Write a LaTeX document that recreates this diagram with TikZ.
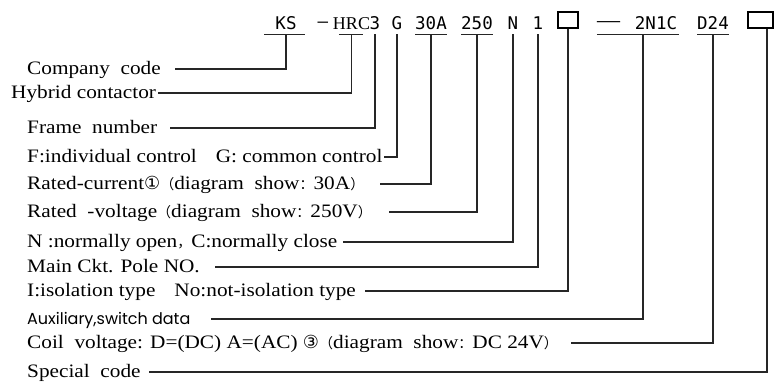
\documentclass[tikz,border=0pt]{standalone}
\usepackage{fontspec}
\usepackage{tikz}
\setmainfont{Liberation Serif}
\newfontfamily\codefont{DejaVu Sans Mono}
\newfontfamily\lblfont[FakeStretch=1.12]{Liberation Serif}
\newfontfamily\auxfont{Poppins}
\newfontfamily\symfont{DejaVu Sans}
\newfontfamily\cjkfont{Noto Sans CJK SC}
\newcommand\cjk{\cjkfont\fontsize{14}{16}\selectfont}

\tikzset{
  code/.style={anchor=base, inner xsep=0pt, inner ysep=0pt, text height=12pt, text depth=5pt,
    font=\codefont\fontsize{17.5}{18}\selectfont},
  codebox/.style={draw, line width=1.2pt, minimum width=20pt, minimum height=16pt, inner sep=0pt},
  lbl/.style={anchor=west, inner sep=0pt, text height=11.5pt, text depth=0pt,
    font=\lblfont\fontsize{19}{21}\selectfont},
  conn/.style={line width=1.2pt, black!85},
}

\begin{document}
\begin{tikzpicture}[x=1pt,y=-1pt]
\useasboundingbox (0,0) rectangle (774,381);

% Type code
\node[code] (cKS) at (286,29) {KS};
\node[code] (cDashA) at (323,27) {–};
\node[code, font=\fontsize{18}{18}\selectfont] (cHRC) at (351.5,29) {HRC};
\node[code] (cFrame) at (375,29) {3};
\node[code] (cCtrl) at (397,29) {G};
\node[code] (cCur) at (431,29) {30A};
\node[code] (cVolt) at (477,29) {250};
\node[code] (cNC) at (513,29) {N};
\node[code] (cPole) at (538,29) {1};
\node[codebox] (bIso) at (568,20) {};
\node[code, font=\fontsize{23}{23}\selectfont] (cDashB) at (608.5,27) {—};
\node[code] (cAux) at (656,29) {2N1C};
\node[code] (cCoil) at (713,29) {D24};
\node[codebox, minimum width=25pt] (bSpecial) at (760.5,20) {};

% Underlines
\draw[conn] ([xshift=-11pt]cKS.south west) -- ([xshift=8pt]cKS.south east);
\draw[conn] ([xshift=6pt]cHRC.south west) -- ([xshift=-7pt]cHRC.south east);
\draw[conn] (cCur.south west) -- (cCur.south east);
\draw[conn] (cVolt.south west) -- (cVolt.south east);
\draw[conn] (cDashB.west |- cAux.south) -- ([xshift=2pt]cAux.south east);
\draw[conn] (cCoil.south west) -- (cCoil.south east);

% Labels
\node[lbl] (lCompany) at (27,69) {Company\ \ code};
\node[lbl] (lHybrid) at (11,93) {Hybrid contactor};
\node[lbl] (lFrame) at (27,128) {Frame\ \ number};
\node[lbl] (lCtrl) at (27,157) {F:individual control\quad G: common control};
\node[lbl] (lCur) at (27,184) {Rated-current{\symfont\fontsize{18}{18}\selectfont ①}{\cjk （}diagram\ \ show{\cjk ：}30A{\cjk ）}};
\node[lbl] (lVolt) at (27,212) {Rated\ \ -voltage{\cjk （}diagram\ \ show{\cjk ：}250V{\cjk ）}};
\node[lbl] (lNC) at (27,242) {N :normally open{\cjk ，}C:normally close};
\node[lbl] (lPole) at (27,267) {Main Ckt. Pole NO.};
\node[lbl] (lIso) at (27,291) {I:isolation type\quad No:not-isolation type};
\node[lbl, font=\auxfont\fontsize{16}{18}\selectfont] (lAux) at (27,319) {Auxiliary,switch data};
\node[lbl] (lCoil) at (27,343) {Coil\ \ voltage: D=(DC)\ A=(AC)\ {\symfont\fontsize{18}{18}\selectfont ③}{\cjk （}diagram\ \ show{\cjk ：}DC 24V{\cjk ）}};
\node[lbl] (lSpecial) at (27,372) {Special\ \ code};

% Connectors
\draw[conn] (cKS.south) |- ([xshift=14pt]lCompany.east);
\draw[conn] (cHRC.south) |- ([xshift=2pt]lHybrid.east);
\draw[conn] (cFrame.south) |- ([xshift=13pt]lFrame.east);
\draw[conn] (cCtrl.south) |- ([xshift=1pt]lCtrl.east);
\draw[conn] (cCur.south) |- ([xshift=16pt]lCur.east);
\draw[conn] (cVolt.south) |- ([xshift=17pt]lVolt.east);
\draw[conn] (cNC.south) |- ([xshift=6pt]lNC.east);
\draw[conn] (cPole.south) |- ([xshift=15pt]lPole.east);
\draw[conn] (bIso.south) |- ([xshift=9pt]lIso.east);
\draw[conn] ([xshift=-13pt]cAux.south) |- ([xshift=20pt]lAux.east);
\draw[conn] (cCoil.south) |- ([xshift=13pt]lCoil.east);
\draw[conn] ([xshift=6.5pt]bSpecial.south) |- ([xshift=8pt]lSpecial.east);
\end{tikzpicture}
\end{document}
